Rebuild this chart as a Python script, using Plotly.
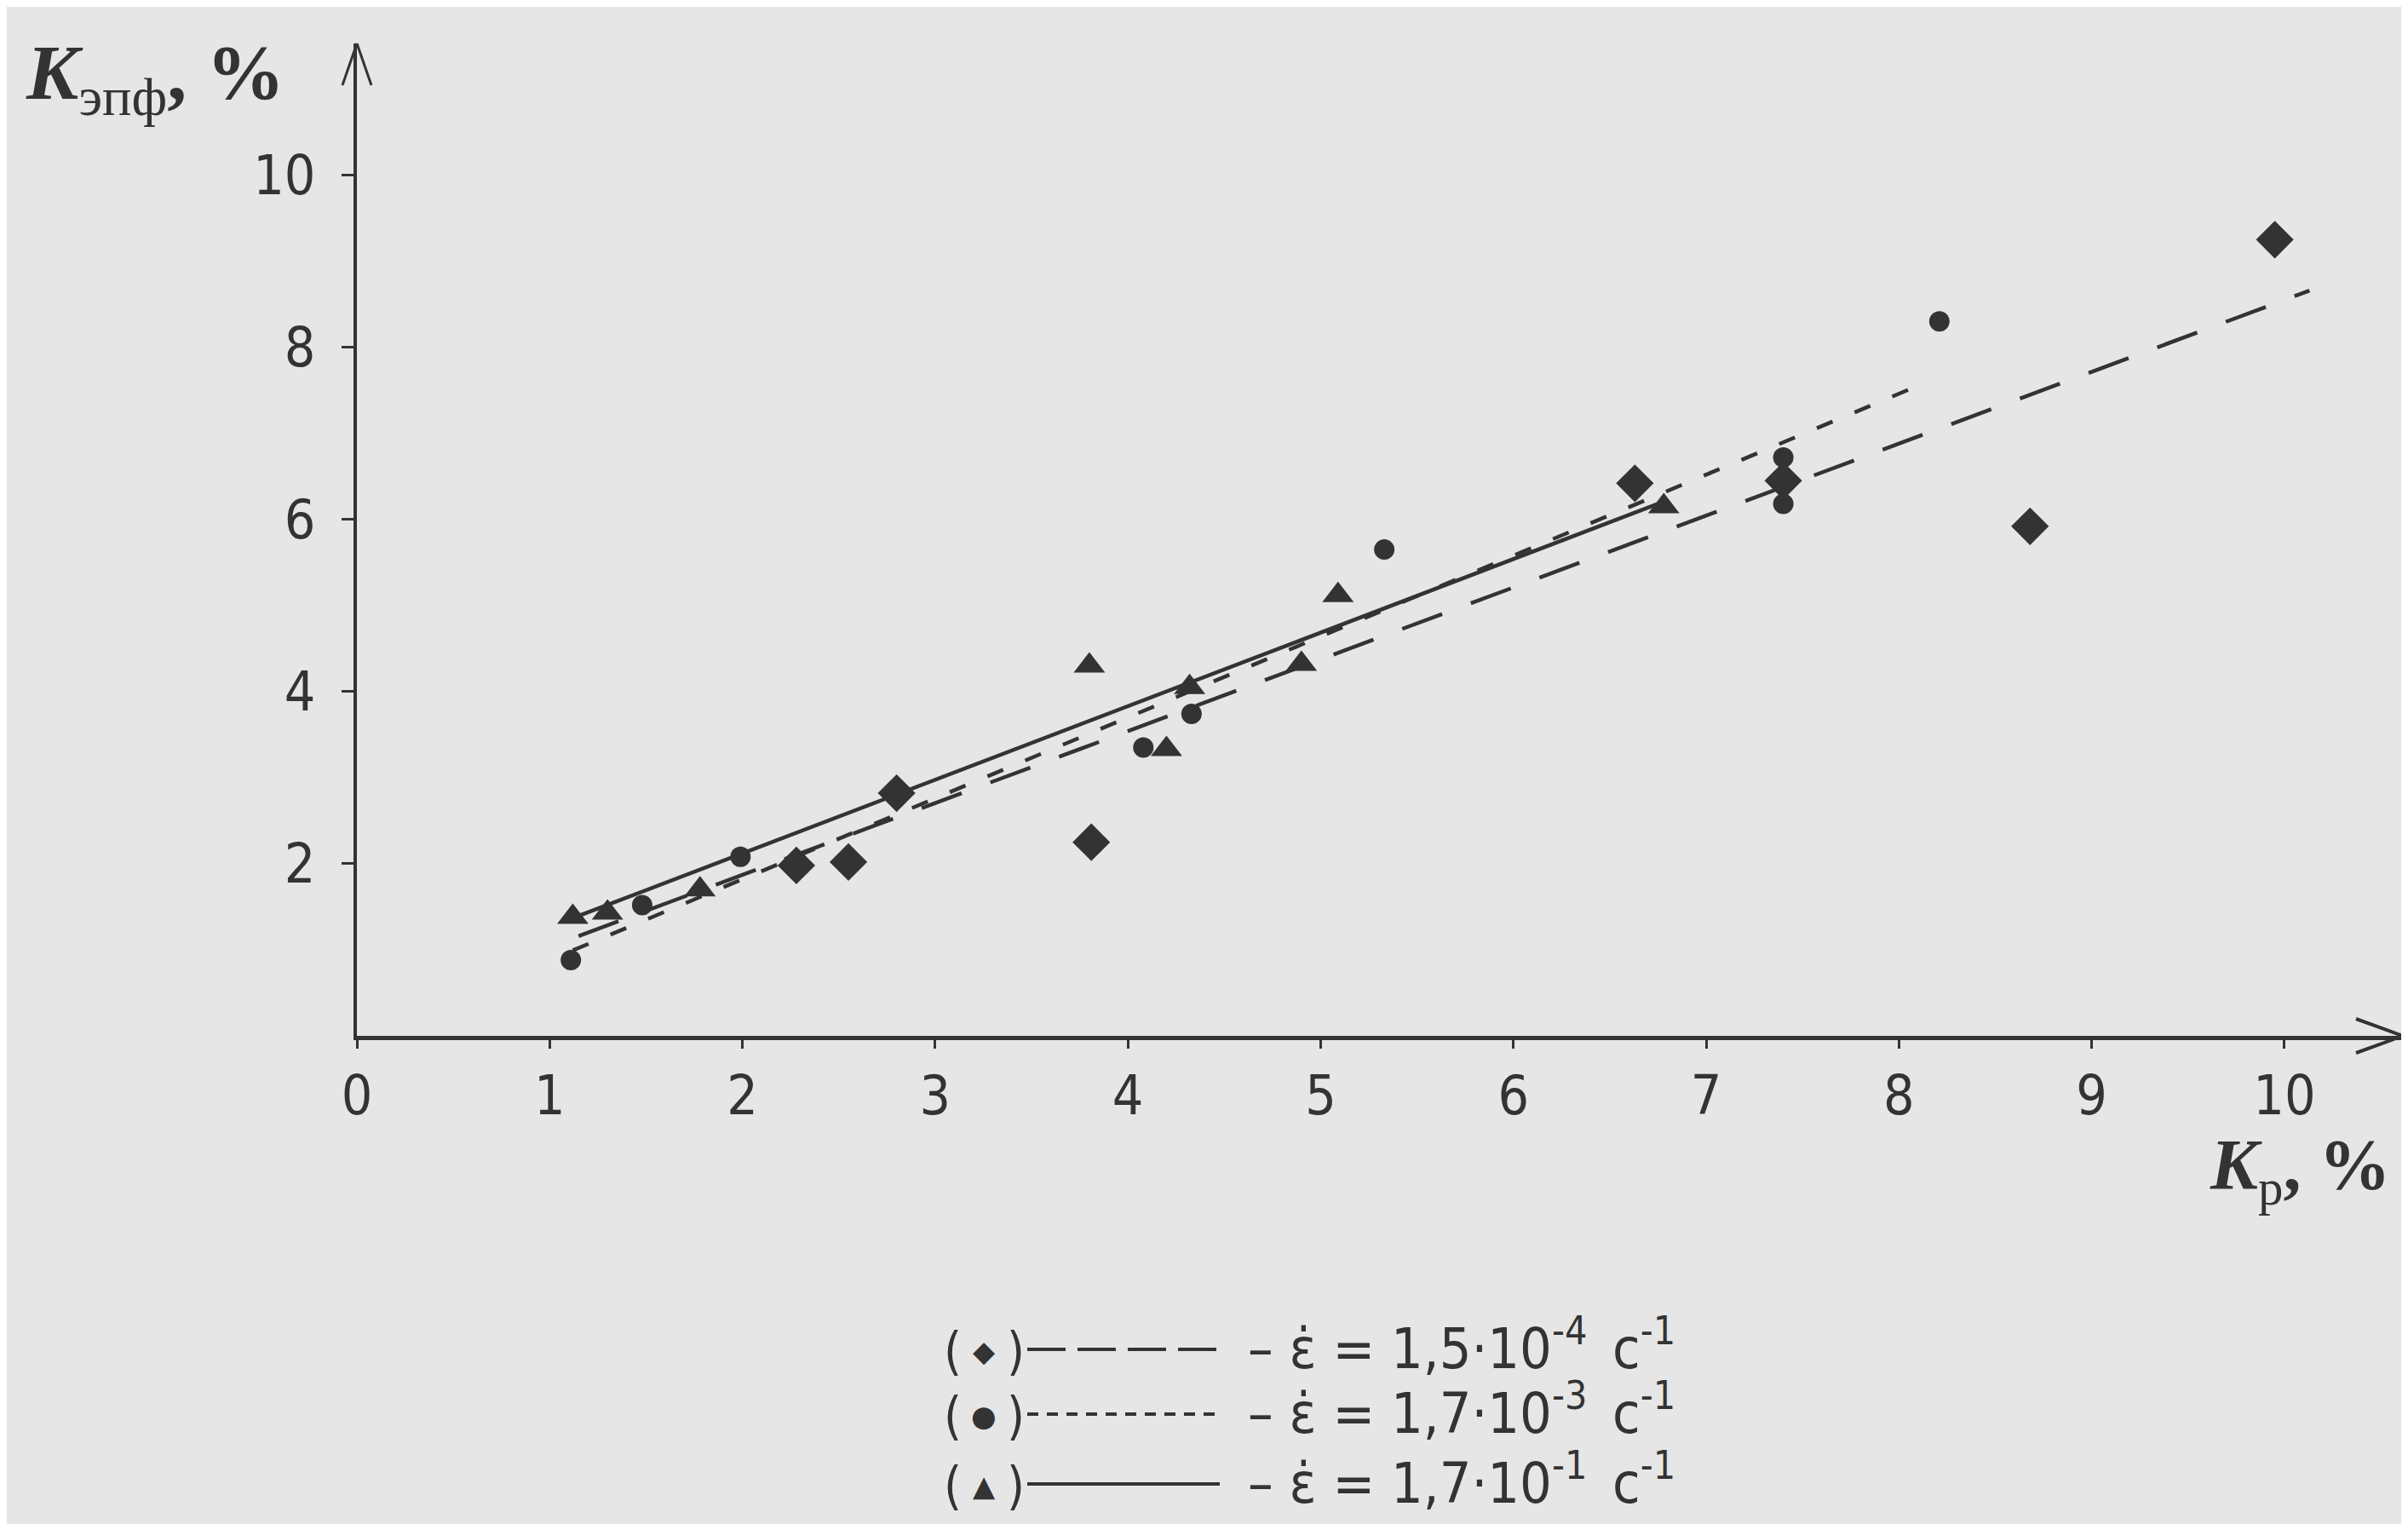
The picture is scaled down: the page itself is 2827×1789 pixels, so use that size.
import plotly.graph_objects as go

# ---------------- data ----------------
diamond_x = [2.28, 2.55, 2.80, 3.81, 6.63, 7.40, 8.68, 9.95]
diamond_y = [1.98, 2.02, 2.82, 2.25, 6.42, 6.45, 5.92, 9.25]

circle_x = [1.11, 1.48, 1.99, 4.08, 4.33, 5.33, 7.40, 7.40, 8.21]
circle_y = [0.88, 1.52, 2.08, 3.35, 3.74, 5.65, 6.72, 6.18, 8.30]

triangle_x = [1.12, 1.30, 1.78, 3.80, 4.20, 4.32, 4.90, 5.09, 6.78]
triangle_y = [1.38, 1.43, 1.70, 4.30, 3.33, 4.05, 4.32, 5.12, 6.15]

# fitted lines: [x_start, x_end], [intercept, slope]
fit_diamond_x = [1.15, 10.13]
fit_diamond_coef = [0.20, 0.835]
fit_circle_x = [1.12, 8.10]
fit_circle_coef = [-0.06, 0.94]
fit_triangle_x = [1.15, 6.75]
fit_triangle_coef = [0.41, 0.855]

x_ticks = [0, 1, 2, 3, 4, 5, 6, 7, 8, 9, 10]
y_ticks = [2, 4, 6, 8, 10]

legend_labels = [
    "\u2013 \u03b5\u0307 = 1,5\u00b710<sup>-4</sup>\u2002\u0441<sup>-1</sup>",
    "\u2013 \u03b5\u0307 = 1,7\u00b710<sup>-3</sup>\u2002\u0441<sup>-1</sup>",
    "\u2013 \u03b5\u0307 = 1,7\u00b710<sup>-1</sup>\u2002\u0441<sup>-1</sup>",
]
legend_symbols = ["\u25c6", "\u25cf", "\u25b2"]

# ---------------- layout geometry ----------------
W, H = 2827, 1789
L, R, T, B = 411, 15, 43, 581
PW, PH = W - L - R, H - T - B
XMAX, YMAX = 10.61, 11.53

INK = "#333333"
BG = "#e6e6e6"
NUMFONT = "Liberation Sans Narrow, DejaVu Sans Condensed, Arial Narrow, sans-serif"
SERIF = "Liberation Serif, DejaVu Serif, serif"


def px(xp):
    return (xp - L) / PW


def py(yp):
    return (H - B - yp) / PH


def fit_line(xs, coef):
    return [coef[0] + coef[1] * x for x in xs]


fig = go.Figure()

# fitted lines
fig.add_trace(go.Scatter(x=fit_diamond_x, y=fit_line(fit_diamond_x, fit_diamond_coef),
                         mode="lines", line=dict(color=INK, width=4.5, dash="50px,36px"),
                         hoverinfo="skip", showlegend=False))
fig.add_trace(go.Scatter(x=fit_circle_x, y=fit_line(fit_circle_x, fit_circle_coef),
                         mode="lines", line=dict(color=INK, width=4.5, dash="20px,28px"),
                         hoverinfo="skip", showlegend=False))
fig.add_trace(go.Scatter(x=fit_triangle_x, y=fit_line(fit_triangle_x, fit_triangle_coef),
                         mode="lines", line=dict(color=INK, width=4.5),
                         hoverinfo="skip", showlegend=False))

# points
fig.add_trace(go.Scatter(x=diamond_x, y=diamond_y, mode="markers",
                         marker=dict(symbol="diamond", size=34, color=INK),
                         showlegend=False))
fig.add_trace(go.Scatter(x=circle_x, y=circle_y, mode="markers",
                         marker=dict(symbol="circle", size=24, color=INK),
                         showlegend=False))
fig.add_trace(go.Scatter(x=triangle_x, y=triangle_y, mode="markers",
                         marker=dict(symbol="triangle-up", size=32, color=INK),
                         showlegend=False))

axis_common = dict(showgrid=False, zeroline=False, showline=True, linecolor=INK,
                   ticks="outside", tickcolor=INK, tickwidth=2.5,
                   tickfont=dict(family=NUMFONT, size=64, color=INK))

fig.update_xaxes(range=[0, XMAX], tickvals=x_ticks, ticktext=[str(v) for v in x_ticks],
                 linewidth=5, ticklen=10, ticklabelstandoff=0, **axis_common)
fig.update_yaxes(range=[0, YMAX], tickvals=y_ticks, ticktext=[str(v) for v in y_ticks],
                 linewidth=3.5, ticklen=14, ticklabelstandoff=18, **axis_common)

shapes = []
# arrow heads
for (x0, y0, x1, y1, w) in [(2758, 1188, 2813, 1208, 4), (2758, 1228, 2813, 1208, 4),
                            (394, 92, 411, 43, 3), (428, 92, 411, 43, 3)]:
    shapes.append(dict(type="line", xref="paper", yref="paper",
                       x0=px(x0), y0=py(y0), x1=px(x1), y1=py(y1),
                       line=dict(color=INK, width=w)))

# legend line samples
legend_rows_y = [1576, 1652, 1734]
legend_dashes = ["45px,14px", "13px,10px", "solid"]
for yy, dsh in zip(legend_rows_y, legend_dashes):
    shapes.append(dict(type="line", xref="paper", yref="paper",
                       x0=px(1198), x1=px(1424), y0=py(yy), y1=py(yy),
                       line=dict(color=INK, width=4, dash=dsh)))

annotations = []
for yy, sym, lab in zip(legend_rows_y, legend_symbols, legend_labels):
    annotations.append(dict(xref="paper", yref="paper", x=px(1110), y=py(yy + 2),
                            text="(", showarrow=False, xanchor="center", yanchor="middle",
                            font=dict(family=NUMFONT, size=60, color=INK)))
    annotations.append(dict(xref="paper", yref="paper", x=px(1184), y=py(yy + 2),
                            text=")", showarrow=False, xanchor="center", yanchor="middle",
                            font=dict(family=NUMFONT, size=60, color=INK)))
    annotations.append(dict(xref="paper", yref="paper", x=px(1147), y=py(yy + 2),
                            text=sym, showarrow=False, xanchor="center", yanchor="middle",
                            font=dict(family="DejaVu Sans, sans-serif", size=34, color=INK)))
    annotations.append(dict(xref="paper", yref="paper", x=px(1455), y=py(yy - 6),
                            text=lab, showarrow=False, xanchor="left", yanchor="middle",
                            font=dict(family=NUMFONT, size=66, color=INK)))

# axis titles
annotations.append(dict(xref="paper", yref="paper", x=px(20), y=py(84),
                        text="<b><i>K</i></b><sub>\u044d\u043f\u0444</sub><b>, %</b>",
                        showarrow=False, xanchor="left", yanchor="middle",
                        font=dict(family=SERIF, size=92, color=INK)))
annotations.append(dict(xref="paper", yref="paper", x=px(2800), y=py(1366),
                        text="<b><i>K</i></b><sub>\u0440</sub><b>, %</b>",
                        showarrow=False, xanchor="right", yanchor="middle",
                        font=dict(family=SERIF, size=84, color=INK)))

fig.update_layout(width=W, height=H, autosize=False,
                  margin=dict(l=L, r=R, t=T, b=B),
                  paper_bgcolor=BG, plot_bgcolor=BG,
                  shapes=shapes, annotations=annotations, showlegend=False)

fig.write_html("out.html")
